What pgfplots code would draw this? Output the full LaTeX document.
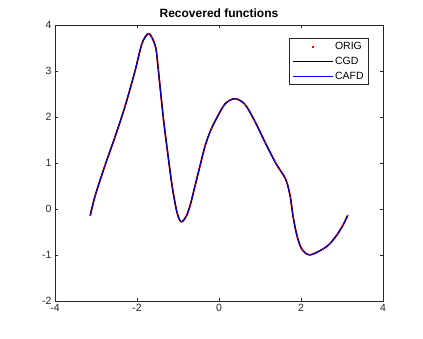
\documentclass[border=0pt]{standalone}
\usepackage{fontspec}
\setmainfont{Liberation Sans}
\usepackage{pgfplots}
\pgfplotsset{compat=1.18}
\definecolor{axgray}{rgb}{0.15,0.15,0.15}

\pgfplotstableread{
x y
-3.14 -0.14
-3.02 0.29
-2.78 0.95
-2.54 1.56
-2.29 2.24
-2.05 3.00
-1.88 3.60
-1.73 3.82
-1.64 3.74
-1.54 3.50
-1.48 3.03
-1.36 2.00
-1.27 1.35
-1.14 0.48
-1.02 -0.09
-0.92 -0.28
-0.80 -0.16
-0.70 0.09
-0.58 0.52
-0.46 0.95
-0.34 1.37
-0.18 1.76
0.10 2.23
0.25 2.36
0.42 2.40
0.64 2.27
0.88 1.90
1.13 1.44
1.37 1.02
1.49 0.85
1.61 0.68
1.66 0.57
1.74 0.26
1.81 -0.18
1.91 -0.61
2.03 -0.89
2.22 -1.00
2.54 -0.87
2.71 -0.75
2.88 -0.56
3.02 -0.36
3.14 -0.14
}\curve

\begin{document}
\begin{tikzpicture}
\path[use as bounding box] (0,0) rectangle (423pt,338pt);
\begin{axis}[
  at={(55pt,37.2pt)}, anchor=south west,
  scale only axis,
  width=328pt, height=275.5pt,
  xmin=-4, xmax=4, ymin=-2, ymax=4,
  xtick={-4,-2,0,2,4},
  ytick={-2,-1,0,1,2,3,4},
  tick align=inside,
  major tick length=3pt,
  axis line style={axgray, line width=0.6pt},
  every tick/.style={axgray, line width=0.6pt},
  tick label style={font=\fontsize{10.5}{12}\selectfont, text=axgray},
  /pgf/number format/assume math mode=true,
  title={Recovered functions},
  title style={font=\fontsize{12}{14}\selectfont\bfseries, yshift=-2pt},
  legend style={at={(0.957,0.954)}, anchor=north east, draw=axgray,
    line width=0.5pt, font=\fontsize{10.5}{12}\selectfont,
    row sep=2pt, inner xsep=3pt, inner ysep=2pt},
  legend cell align=left,
]
\addplot[red, line width=1.6pt, smooth, forget plot] table {\curve};
\addplot[only marks, mark=*, mark size=0.5pt, red,
  legend image code/.code={\fill[red] (19.3pt,-0.7pt) rectangle (20.7pt,0.7pt);}]
  table {\curve};
\addplot[black, line width=1.2pt, smooth,
  legend image code/.code={\draw[black, line width=0.6pt] (0pt,0pt) -- (40pt,0pt);}]
  table {\curve};
\addplot[blue, line width=0.8pt, smooth,
  legend image code/.code={\draw[blue, line width=0.6pt] (0pt,0pt) -- (40pt,0pt);}]
  table {\curve};
\legend{ORIG,CGD,CAFD}
\end{axis}
\end{tikzpicture}
\end{document}
